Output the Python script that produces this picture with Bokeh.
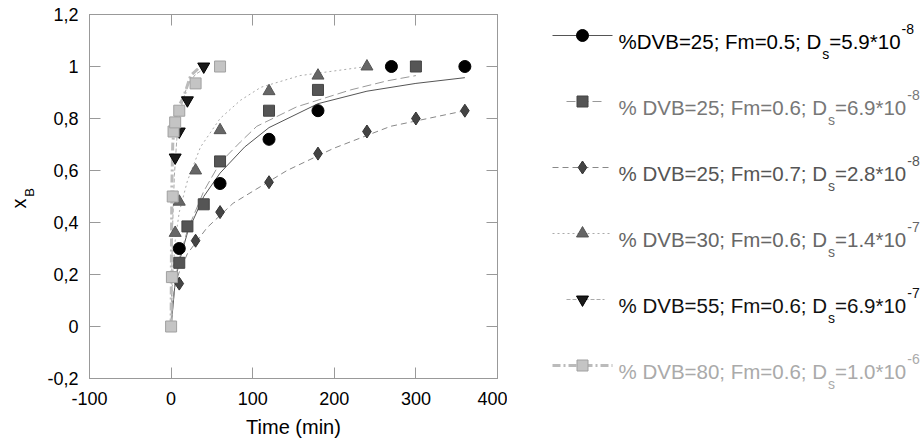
from bokeh.plotting import figure
from bokeh.models import Range1d, LinearAxis, FixedTicker
from bokeh.layouts import row
from bokeh.embed import file_html
from bokeh.resources import INLINE
from bokeh.core.properties import value

# ---------------- data ----------------
x_ticks = [-100, 0, 100, 200, 300, 400]
x_tick_labels = ["-100", "0", "100", "200", "300", "400"]
y_ticks = [-0.2, 0.0, 0.2, 0.4, 0.6, 0.8, 1.0, 1.2]
y_tick_labels = ["-0,2", "0", "0,2", "0,4", "0,6", "0,8", "1", "1,2"]

# experimental points
t1 = [10, 60, 120, 180, 270, 360]
x1 = [0.30, 0.55, 0.72, 0.83, 1.0, 1.0]
t2 = [10, 20, 40, 60, 120, 180, 300]
x2 = [0.245, 0.385, 0.47, 0.635, 0.83, 0.91, 1.0]
t3 = [10, 30, 60, 120, 180, 240, 300, 360]
x3 = [0.165, 0.33, 0.44, 0.555, 0.665, 0.75, 0.80, 0.83]
t4 = [5, 10, 30, 60, 120, 180, 240]
x4 = [0.36, 0.48, 0.60, 0.755, 0.905, 0.965, 1.0]
t5 = [5, 10, 20, 40]
x5 = [0.65, 0.75, 0.87, 1.0]
t6 = [0, 1, 2, 3, 5, 10, 30, 60]
x6 = [0.0, 0.19, 0.5, 0.75, 0.785, 0.83, 0.935, 1.0]

# model curves
c1_t = [0, 5, 10, 20, 40, 60, 90, 120, 180, 240, 300, 360]
c1_x = [0, 0.17, 0.25, 0.36, 0.50, 0.59, 0.69, 0.765, 0.857, 0.905, 0.935, 0.957]
c2_t = [0, 5, 10, 20, 40, 60, 85, 105, 154, 220, 265, 300]
c2_x = [0, 0.18, 0.26, 0.37, 0.52, 0.63, 0.71, 0.77, 0.845, 0.91, 0.945, 0.965]
c3_t = [0, 2, 5, 10, 20, 44, 76, 142, 199, 269, 360]
c3_x = [0, 0.10, 0.16, 0.21, 0.28, 0.38, 0.474, 0.60, 0.685, 0.77, 0.83]
c4_t = [0, 2, 5, 10, 20, 36, 60, 85, 110, 158, 240]
c4_x = [0, 0.20, 0.33, 0.44, 0.56, 0.69, 0.80, 0.87, 0.92, 0.965, 1.0]
c5_t = [0, 1, 2, 4, 7, 12, 20, 30, 40]
c5_x = [0, 0.25, 0.40, 0.58, 0.72, 0.84, 0.93, 0.97, 0.99]
c6_t = [0, 0.5, 1, 2, 4, 8, 15, 24, 36]
c6_x = [0, 0.35, 0.55, 0.70, 0.78, 0.84, 0.88, 0.965, 1.0]

legend_main = ["%DVB=25; Fm=0.5; D", "% DVB=25; Fm=0.6; D", "% DVB=25; Fm=0.7; D",
               "% DVB=30; Fm=0.6; D", "% DVB=55; Fm=0.6; D", "% DVB=80; Fm=0.6; D"]
legend_sub = ["s", "s", "s", "s", "s", "s"]
legend_val = ["=5.9*10", "=6.9*10", "=2.8*10", "=1.4*10", "=6.9*10", "=1.0*10"]
legend_exp = ["-8", "-8", "-8", "-7", "-7", "-6"]

# ---------------- styles ----------------
FONT = "Liberation Sans"
AX = "#999999"
H = 443
TOP, BOTTOM = 14, 65          # borders shared by all panels (frames are aligned)
FT, FB = TOP, H - BOTTOM      # frame top / bottom in picture pixels
markers = ["circle", "square", "diamond", "triangle", "inverted_triangle", "square"]
mfill = ["#000000", "#555555", "#444444", "#666666", "#1a1a1a", "#c4c4c4"]
mline = ["#000000", "#444444", "#333333", "#555555", "#000000", "#a0a0a0"]
msize = [12, 11, 13, 12, 12, 11]
lcol = ["#555555", "#999999", "#888888", "#aaaaaa", "#aaaaaa", "#bbbbbb"]
lwid = [1, 1, 1, 1, 1, 3]
ldash = ["solid", "9 4", "6 4", "2 3", "4 2", "8 3 2 3"]
tcol = ["#000000", "#777777", "#555555", "#666666", "#111111", "#aaaaaa"]

def blank_panel(w, x0, x1):
    f = figure(width=w, height=H, x_range=Range1d(x0, x1), y_range=Range1d(FB, FT),
               output_backend="svg", toolbar_location=None,
               min_border_left=0, min_border_right=0,
               min_border_top=TOP, min_border_bottom=BOTTOM,
               x_axis_location=None, y_axis_location=None)
    f.grid.visible = False
    f.outline_line_color = None
    return f

# ---------------- y-axis title strip ----------------
yl = blank_panel(40, 0, 40)
yl.text([18], [203], text=["x"], angle=1.5708, text_font=value(FONT), text_font_size="20px",
        text_align="center", text_baseline="middle", text_color="#000000", level="overlay")
yl.text([29], [192], text=["B"], angle=1.5708, text_font=value(FONT), text_font_size="13px",
        text_align="center", text_baseline="middle", text_color="#000000", level="overlay")

# ---------------- main plot ----------------
p = figure(width=467, height=H, x_range=Range1d(-100, 400), y_range=Range1d(-0.2, 1.2),
           output_backend="svg", toolbar_location=None,
           min_border_left=49, min_border_right=10, min_border_top=TOP, min_border_bottom=BOTTOM)
p.grid.visible = False
p.outline_line_color = AX

def style_axis(ax, standoff=None):
    ax.axis_line_color = AX
    ax.major_tick_line_color = AX
    ax.major_tick_in = 11
    ax.major_tick_out = 0
    ax.minor_tick_line_color = None
    if standoff is not None:
        ax.major_label_text_font = FONT
        ax.major_label_text_font_size = "18px"
        ax.major_label_text_color = "#000000"
        ax.major_label_standoff = standoff
    else:
        ax.major_label_text_font_size = "0px"
        ax.major_label_text_color = None
        ax.major_label_standoff = 0

p.xaxis.ticker = FixedTicker(ticks=x_ticks)
p.xaxis.major_label_overrides = dict(zip(x_ticks, x_tick_labels))
p.yaxis.ticker = FixedTicker(ticks=y_ticks)
p.yaxis.major_label_overrides = dict(zip(y_ticks, y_tick_labels))
style_axis(p.xaxis[0], 13)
style_axis(p.yaxis[0], 11)
p.xaxis.axis_label = "Time (min)"
p.xaxis.axis_label_text_font = FONT
p.xaxis.axis_label_text_font_size = "20px"
p.xaxis.axis_label_text_font_style = "normal"
p.xaxis.axis_label_text_color = "#000000"
p.xaxis.axis_label_standoff = 8

ra = LinearAxis(ticker=FixedTicker(ticks=y_ticks))
style_axis(ra)
p.add_layout(ra, "right")
ta = LinearAxis(ticker=FixedTicker(ticks=x_ticks))
style_axis(ta)
p.add_layout(ta, "above")

curves = [(c1_t, c1_x), (c2_t, c2_x), (c3_t, c3_x), (c4_t, c4_x), (c5_t, c5_x), (c6_t, c6_x)]
points = [(t1, x1), (t2, x2), (t3, x3), (t4, x4), (t5, x5), (t6, x6)]
for i, (ct, cx) in enumerate(curves):
    p.line(ct, cx, line_color=lcol[i], line_width=lwid[i], line_dash=ldash[i])
for i, (pt, px) in enumerate(points):
    p.scatter(pt, px, marker=markers[i], size=msize[i], fill_color=mfill[i],
              line_color=mline[i], line_width=1)

# ---------------- legend panel ----------------
lf = blank_panel(416, 507, 923)

W = {'%': 889, ' ': 278, 'D': 722, 'V': 667, 'B': 667, '=': 584, ';': 278, 'F': 611,
     'm': 833, '.': 278, '*': 389, '-': 333, 's': 500}
def tw(s, size):
    return sum(W.get(c, 556) for c in s) * size / 1000.0

MAIN = 20.5
SMALL = 14
x0 = 618
for i in range(6):
    ry = 35 + 66 * i
    xa, xb = (552, 612)
    if i in (1, 4):
        xa, xb = (566, 604)
    lf.line([xa, xb], [ry, ry], line_color=lcol[i], line_width=lwid[i], line_dash=ldash[i])
    lf.scatter([582], [ry], marker=markers[i], size=msize[i], fill_color=mfill[i],
               line_color=mline[i])
    kw = dict(text_font=value(FONT), text_color=tcol[i], text_baseline="middle", level="overlay")
    xs = x0
    lf.text([xs], [ry + 6], text=[legend_main[i]], text_font_size=f"{MAIN}px", **kw)
    xs += tw(legend_main[i], MAIN) + 1
    lf.text([xs], [ry + 18], text=[legend_sub[i]], text_font_size=f"{SMALL}px", **kw)
    xs += tw(legend_sub[i], SMALL)
    lf.text([xs], [ry + 6], text=[legend_val[i]], text_font_size=f"{MAIN}px", **kw)
    xs += tw(legend_val[i], MAIN) + 1
    lf.text([xs], [ry - 7], text=[legend_exp[i]], text_font_size=f"{SMALL}px", **kw)

layout = row(yl, p, lf)
open("out.html", "w").write(file_html(layout, INLINE))
